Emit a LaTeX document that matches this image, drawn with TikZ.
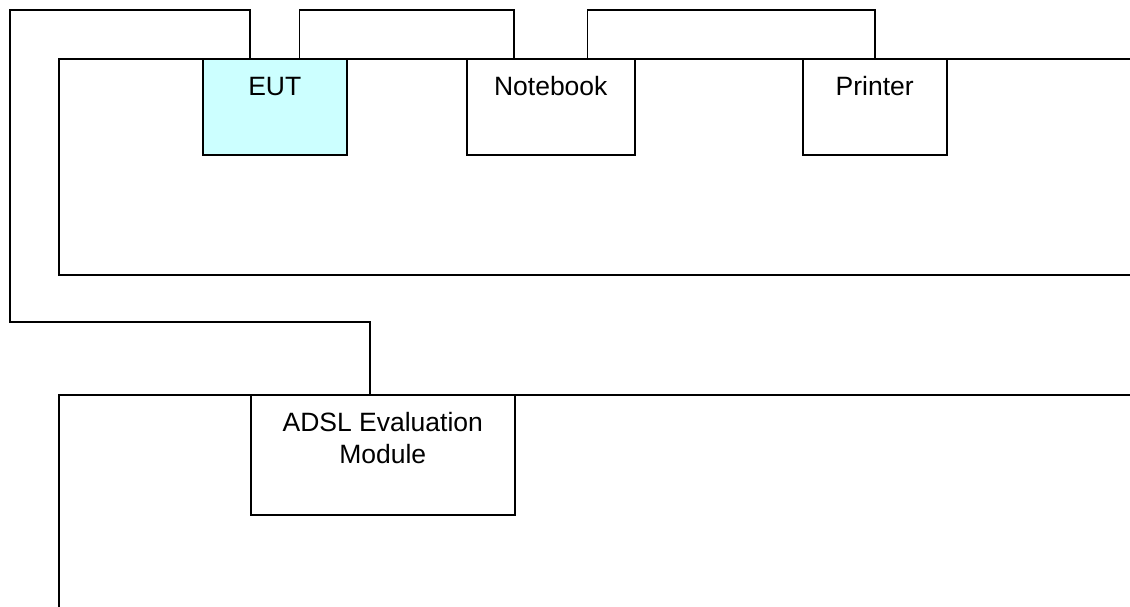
\documentclass[tikz,border=0pt]{standalone}
\usepackage{fontspec}
\setmainfont{Liberation Sans}
\begin{document}
\begin{tikzpicture}[x=1pt,y=1pt,
  wire/.style={line width=1.5pt, line join=miter},
  frame/.style={draw, line width=1.5pt},
  devbox/.style={draw, line width=1.5pt, inner sep=0pt, anchor=north west,
    minimum width=#1, text height=37pt, text depth=59pt,
    font=\fontsize{26.5}{32}\selectfont},
  devbox/.default=144pt]
\useasboundingbox (0,0) rectangle (1130,-606);
\clip (0,0) rectangle (1130,-606);
\fill[white] (0,0) rectangle (1130,-606);
% large frames (open to the right edge)
\node[frame, inner sep=0pt, anchor=north west, minimum width=1100pt, minimum height=216pt] (lan) at (58,-58) {};
\node[frame, inner sep=0pt, anchor=north west, minimum width=1100pt, minimum height=260pt] (wan) at (58,-394) {};
% devices
\node[devbox, fill={rgb,255:red,204;green,255;blue,255}] (eut) at (202,-58) {EUT};
\node[devbox=168pt] (nb) at (466,-58) {Notebook};
\node[devbox] (pr) at (802,-58) {Printer};
\node[draw, line width=1.5pt, inner sep=0pt, anchor=north west, text height=37pt, text depth=83pt]
  (adsl) at (250,-394) {\parbox[t]{264pt}{\centering\fontsize{26.5}{32}\selectfont ADSL Evaluation\\Module}};
% corner points of the long cable
\coordinate (c1) at (10,-10);
\coordinate (c2) at (10,-322);
% cables
\draw[wire] ([xshift=48pt]eut.north west) |- (c1) -- (c2) -| ([xshift=120pt]adsl.north west);
\draw[wire] ([xshift=-48pt]eut.north east) -- ++(0,48) -| ([xshift=48pt]nb.north west);
\draw[wire] ([xshift=-48pt]nb.north east) -- ++(0,48) -| (pr.north);
\end{tikzpicture}
\end{document}
